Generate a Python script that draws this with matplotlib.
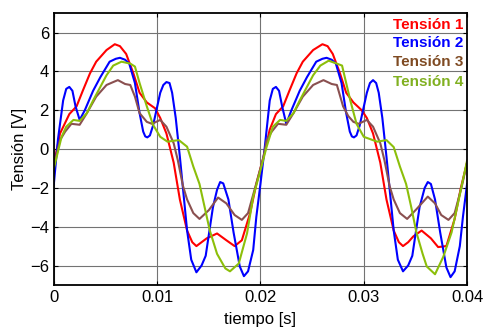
import numpy as np
import matplotlib.pyplot as plt

plt.rcParams['font.family'] = ['Liberation Sans', 'DejaVu Sans']

# values (time in ms, voltage in V)
t1 = [0, 0.6, 1.5, 2.2, 2.8, 3.5, 4.1, 5.1, 5.9, 6.4, 7.0, 7.7, 8.3, 9.0, 9.8, 10.3,
      10.9, 11.6, 12.2, 12.9, 13.4, 13.8, 14.3, 14.8, 15.8, 16.7, 17.5, 18.2, 19.0, 19.6, 20.3,
      20.9, 21.5, 22.2, 22.8, 23.5, 24.1, 25.1, 26.0, 26.5, 27.0, 27.7, 28.3, 29.0,
      29.8, 30.3, 30.9, 31.6, 32.2, 32.9, 33.4, 33.8, 34.3, 34.8, 35.6, 36.5, 37.2, 38.0, 38.8,
      39.4, 40.0]
v1 = [-0.8, 0.8, 1.8, 2.2, 3.0, 3.9, 4.5, 5.1, 5.4, 5.3, 4.9, 3.9, 2.9, 2.4, 2.1, 1.6,
      0.8, -0.7, -2.6, -4.2, -4.8, -5.0, -4.8, -4.6, -4.35, -4.7, -5.0, -4.7, -3.3, -1.8, -0.4,
      1.0, 1.8, 2.2, 3.0, 3.9, 4.5, 5.1, 5.4, 5.3, 4.9, 3.9, 2.9, 2.4,
      2.0, 1.6, 0.8, -0.7, -2.6, -4.2, -4.8, -5.0, -4.8, -4.5, -4.2, -4.6, -5.05, -5.0, -3.6,
      -2.0, -0.7]

t2 = [0, 0.4, 0.9, 1.2, 1.5, 1.8, 2.1, 2.5, 3.0, 3.8, 4.5, 5.4, 6.0, 6.4, 6.9, 7.3,
      7.85, 8.3, 8.65, 8.85, 9.05, 9.3, 9.6, 10.3, 10.6, 10.9, 11.2, 11.45, 11.8,
      12.2, 12.9, 13.3, 13.8, 14.3, 14.7, 15.4, 15.8, 16.1, 16.4, 16.9, 17.4, 18.0,
      18.4, 18.8, 19.3, 19.6, 20.0, 20.4, 20.9, 21.2, 21.5, 21.8, 22.1, 22.5, 23.0,
      23.8, 24.5, 25.4, 26.0, 26.4, 26.9, 27.3, 27.85, 28.3, 28.65, 28.85, 29.05, 29.3,
      29.6, 30.3, 30.6, 30.9, 31.2, 31.45, 31.8, 32.2, 32.9, 33.3, 33.8, 34.3, 34.7,
      35.4, 35.9, 36.2, 36.5, 36.9, 37.4, 38.0, 38.4, 38.8, 39.3, 39.6, 40.0]
v2 = [-1.8, 0.5, 2.5, 3.1, 3.2, 3.0, 2.2, 1.5, 2.0, 3.0, 3.7, 4.5, 4.65, 4.7, 4.6, 4.4,
      3.4, 1.85, 0.9, 0.65, 0.6, 0.7, 1.2, 2.9, 3.3, 3.45, 3.4, 2.9, 1.6,
      -0.4, -4.2, -5.7, -6.35, -6.0, -5.5, -3.0, -2.1, -1.7, -1.77, -2.6, -4.3, -6.05,
      -6.55, -6.3, -5.2, -3.5, -1.8, 0.0, 2.5, 3.1, 3.2, 3.0, 2.2, 1.3, 2.0,
      3.0, 3.7, 4.5, 4.65, 4.7, 4.6, 4.4, 3.4, 1.85, 0.9, 0.65, 0.6, 0.7,
      1.2, 2.9, 3.4, 3.55, 3.4, 2.9, 1.6, -0.4, -4.2, -5.7, -6.3, -6.0, -5.5,
      -3.0, -2.0, -1.7, -1.8, -2.6, -4.3, -6.1, -6.6, -6.3, -5.0, -3.5, -1.8]

t3 = [0, 0.6, 1.1, 1.7, 2.5, 3.2, 4.1, 5.1, 5.75, 6.2, 6.9, 7.4, 7.85, 8.3, 9.0, 9.5,
      10.3, 10.9, 11.6, 12.0, 12.5, 12.9, 13.5, 14.1, 15.0, 15.9, 16.7, 17.5, 18.2,
      18.8, 19.6, 20.3, 20.6, 21.1, 21.7, 22.5, 23.2, 24.1, 25.1, 25.7, 26.1, 26.9,
      27.4, 28.0, 28.5, 29.0, 29.5, 30.3, 30.9, 31.6, 32.0, 32.5, 32.9, 33.5, 34.2,
      35.1, 36.2, 36.9, 37.5, 38.2, 38.8, 39.5, 40.0]
v3 = [-0.9, 0.46, 0.9, 1.3, 1.25, 1.85, 2.7, 3.3, 3.45, 3.55, 3.35, 3.3, 2.7, 1.85, 1.4, 1.3,
      1.5, 1.15, 0.3, -0.57, -1.9, -2.6, -3.3, -3.6, -3.15, -2.5, -2.8, -3.4, -3.65,
      -3.3, -1.77, -0.4, 0.46, 0.9, 1.3, 1.25, 1.85, 2.7, 3.3, 3.45, 3.55, 3.35,
      3.3, 2.2, 1.7, 1.4, 1.3, 1.5, 1.15, 0.3, -0.57, -1.9, -2.6, -3.3, -3.6,
      -3.1, -2.45, -2.8, -3.4, -3.65, -3.3, -1.9, -0.7]

t4 = [0, 0.75, 1.2, 1.9, 2.5, 3.2, 3.8, 4.5, 5.1, 5.75, 6.55, 7.4, 7.85, 8.3, 9.0, 9.6,
      10.3, 11.0, 12.1, 12.9, 13.5, 14.1, 14.6, 15.1, 15.8, 16.6, 17.05, 17.9, 18.7,
      19.3, 20.0, 20.6, 21.2, 21.9, 22.5, 23.2, 23.8, 24.5, 25.1, 25.8, 26.6, 27.4,
      27.9, 28.7, 29.3, 30.0, 31.3, 32.2, 32.9, 33.5, 34.1, 34.6, 35.1, 35.7, 36.1,
      36.9, 37.7, 38.5, 39.2, 40.0]
v4 = [-1.0, 0.63, 1.15, 1.5, 1.45, 1.85, 2.5, 3.2, 3.8, 4.3, 4.5, 4.4, 4.25, 3.4, 2.2, 1.25,
      0.63, 0.38, 0.46, 0.12, -0.9, -1.8, -3.0, -4.2, -5.4, -6.15, -6.3, -5.9, -4.35,
      -2.45, -1.1, 0.12, 1.15, 1.5, 1.45, 1.85, 2.5, 3.2, 3.8, 4.3, 4.55, 4.4,
      4.3, 2.5, 1.3, 0.63, 0.38, 0.46, 0.1, -0.9, -1.8, -3.0, -4.3, -5.4, -6.05,
      -6.45, -5.55, -4.3, -2.6, -0.6]

labels = ['Tensión 1', 'Tensión 2', 'Tensión 3', 'Tensión 4']
line_colors = ['#ff0000', '#0000ff', '#8a5050', '#8cbf0a']
text_colors = ['#ff0000', '#0000ff', '#7f4a22', '#80b020']

fig = plt.figure(figsize=(4.85, 3.29), dpi=100)
ax = fig.add_axes([0.111, 0.134, 0.852, 0.826])

series = [(t1, v1), (t2, v2), (t3, v3), (t4, v4)]
for (t, v), c in zip(series, line_colors):
    ax.plot(np.array(t) / 1000, v, color=c, lw=1.5)

ax.set_xlim(0, 0.04)
ax.set_ylim(-7, 7)
ax.set_xticks([0, 0.01, 0.02, 0.03, 0.04])
ax.set_xticklabels(['0', '0.01', '0.02', '0.03', '0.04'])
ax.set_yticks([-6, -4, -2, 0, 2, 4, 6])
ax.grid(True, color='0.45', lw=0.8)
ax.tick_params(direction='in', top=True, right=True, length=3, labelsize=12)
for s in ax.spines.values():
    s.set_linewidth(1.3)

ax.set_xlabel('tiempo [s]', fontsize=12, labelpad=5)
ax.set_ylabel('Tensión [V]', fontsize=12, labelpad=2)

# legend drawn as coloured text, right aligned
ys = [0.956, 0.890, 0.820, 0.746]
for lab, c, y in zip(labels, text_colors, ys):
    ax.text(0.99, y, lab, color=c, fontsize=11, fontweight='bold',
            ha='right', va='center', transform=ax.transAxes)

fig.savefig('out.png', dpi=100)
